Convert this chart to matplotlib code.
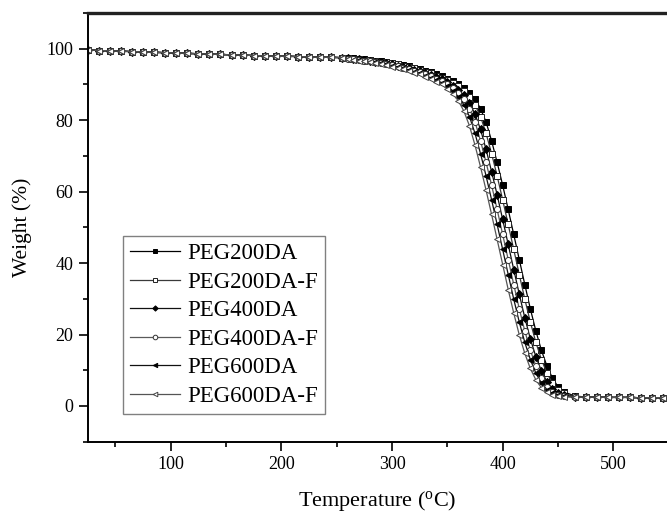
import matplotlib
matplotlib.use("Agg")
import matplotlib.pyplot as plt
from matplotlib.ticker import MultipleLocator

plt.rcParams['font.family'] = ['Liberation Serif', 'DejaVu Serif']
plt.rcParams['mathtext.fontset'] = 'custom'
plt.rcParams['mathtext.rm'] = 'Liberation Serif'

# Temperatures (°C)
temp_head = [25, 35, 45, 55, 65, 75, 85, 95, 105, 115, 125, 135, 145, 155, 165, 175,
             185, 195, 205, 215, 225, 235, 245, 255]
temp_mid = [260, 265, 270, 275, 280, 285, 290, 295, 300, 305, 310, 315, 320, 325, 330,
            335, 340, 345, 350, 355, 360, 365, 370, 375, 380, 385, 390, 395, 400, 405,
            410, 415, 420, 425, 430, 435, 440, 445, 450, 455, 465]
temp_tail = [475, 485, 495, 505, 515, 525, 535, 545]

# Weight (%) shared plateau and residue
weight_head = [99.7, 99.5, 99.4, 99.3, 99.2, 99.1, 99.0, 98.9, 98.8, 98.7, 98.6, 98.5,
               98.4, 98.3, 98.2, 98.1, 98.0, 97.9, 97.9, 97.8, 97.7, 97.6, 97.6, 97.5]
weight_tail = [2.5, 2.5, 2.4, 2.4, 2.4, 2.3, 2.3, 2.3]

peg200da = [97.4, 97.3, 97.2, 97.0, 96.9, 96.7, 96.5, 96.3, 96.1, 95.8, 95.5, 95.1, 94.7,
            94.3, 93.9, 93.4, 92.9, 92.3, 91.6, 91.0, 90.2, 89.0, 87.6, 86.0, 83.2, 79.5,
            74.2, 68.2, 61.8, 55.0, 48.0, 41.0, 34.0, 27.2, 21.0, 15.6, 11.2, 7.8, 5.4,
            4.0, 2.8]
peg200da_f = [97.3, 97.2, 97.1, 96.9, 96.8, 96.6, 96.4, 96.2, 95.9, 95.6, 95.3, 94.9,
              94.5, 94.1, 93.6, 93.1, 92.5, 91.9, 91.2, 90.5, 89.5, 88.2, 86.6, 84.3,
              81.0, 76.3, 70.6, 64.4, 57.7, 50.8, 43.8, 36.8, 29.9, 23.5, 17.8, 13.0,
              9.2, 6.4, 4.6, 3.5, 2.7]
peg400da = [97.3, 97.1, 97.0, 96.8, 96.6, 96.4, 96.2, 96.0, 95.7, 95.3, 94.9, 94.5, 94.1,
            93.7, 93.2, 92.7, 92.0, 91.4, 90.7, 89.7, 88.4, 87.0, 84.9, 81.7, 77.4, 71.8,
            65.6, 59.1, 52.2, 45.2, 38.2, 31.3, 24.7, 18.8, 13.8, 9.8, 6.8, 4.8, 3.7,
            3.0, 2.6]
peg400da_f = [97.2, 97.0, 96.9, 96.7, 96.5, 96.3, 96.1, 95.8, 95.5, 95.1, 94.7, 94.3,
              93.9, 93.4, 92.9, 92.3, 91.6, 91.0, 90.2, 89.0, 87.6, 86.0, 83.2, 79.5,
              74.2, 68.2, 61.8, 55.0, 48.0, 41.0, 34.0, 27.2, 21.0, 15.6, 11.2, 7.8,
              5.4, 4.0, 3.2, 2.8, 2.5]
peg600da = [97.1, 96.9, 96.8, 96.6, 96.4, 96.2, 95.9, 95.6, 95.3, 94.9, 94.5, 94.1, 93.6,
            93.1, 92.5, 91.9, 91.2, 90.5, 89.5, 88.2, 86.6, 84.3, 81.0, 76.3, 70.6, 64.4,
            57.7, 50.8, 43.8, 36.8, 29.9, 23.5, 17.8, 13.0, 9.2, 6.4, 4.6, 3.5, 3.0,
            2.7, 2.5]
peg600da_f = [97.0, 96.9, 96.7, 96.5, 96.3, 96.0, 95.7, 95.4, 95.0, 94.6, 94.2, 93.8,
              93.3, 92.8, 92.2, 91.5, 90.8, 90.0, 88.7, 87.3, 85.4, 82.5, 78.4, 73.0,
              66.9, 60.4, 53.6, 46.6, 39.6, 32.6, 26.0, 19.9, 14.7, 10.5, 7.3, 5.1,
              3.8, 3.1, 2.8, 2.6, 2.5]

labels = ['PEG200DA', 'PEG200DA-F', 'PEG400DA', 'PEG400DA-F', 'PEG600DA', 'PEG600DA-F']
series = [peg200da, peg200da_f, peg400da, peg400da_f, peg600da, peg600da_f]

styles = [
    dict(color='#000000', marker='s', mfc='#000000', mec='#000000', ms=4.0),
    dict(color='#3a3a3a', marker='s', mfc='white', mec='#222222', ms=4.0),
    dict(color='#111111', marker='D', mfc='#000000', mec='#000000', ms=3.6),
    dict(color='#5a5a5a', marker='o', mfc='white', mec='#333333', ms=4.4),
    dict(color='#111111', marker='<', mfc='#000000', mec='#000000', ms=4.2),
    dict(color='#555555', marker='<', mfc='white', mec='#444444', ms=4.4),
]

temps = temp_head + temp_mid + temp_tail

fig = plt.figure(figsize=(6.67, 5.15), dpi=100)
ax = fig.add_axes([87.7 / 667, 73.3 / 515, 579.3 / 667, 428.7 / 515])

for lab, vals, st in zip(labels, series, styles):
    w = weight_head + vals + weight_tail
    ax.plot(temps, w, lw=0.9, mew=0.7, label=lab, **st)

ax.set_xlim(25, 548.5)
ax.set_ylim(-10, 110)
ax.xaxis.set_major_locator(MultipleLocator(100))
ax.xaxis.set_minor_locator(MultipleLocator(50))
ax.yaxis.set_major_locator(MultipleLocator(20))
ax.yaxis.set_minor_locator(MultipleLocator(10))
ax.tick_params(which='major', direction='out', length=6.5, width=1.2, labelsize=13, pad=4)
ax.tick_params(which='minor', direction='out', length=3.6, width=1.2)
ax.tick_params(top=False, right=False, which='both')

ax.spines['right'].set_visible(False)
ax.spines['top'].set_linewidth(2.4)
ax.spines['top'].set_color('#222222')
ax.spines['left'].set_linewidth(1.4)
ax.spines['bottom'].set_linewidth(1.4)

ax.set_xlabel('Temperature ($\\mathregular{^{o}}$C)', fontsize=16, labelpad=11)
ax.set_ylabel('Weight (%)', fontsize=15.5, labelpad=10)

leg = ax.legend(loc='upper left', bbox_to_anchor=(0.0604, 0.4798), borderaxespad=0,
                fontsize=16.5, frameon=True, fancybox=False, framealpha=1,
                edgecolor='#808080', handlelength=2.2, handletextpad=0.3,
                labelspacing=0.33, borderpad=0.3, markerscale=0.75)
leg.get_frame().set_linewidth(1.0)

fig.savefig('out.png', dpi=100)
